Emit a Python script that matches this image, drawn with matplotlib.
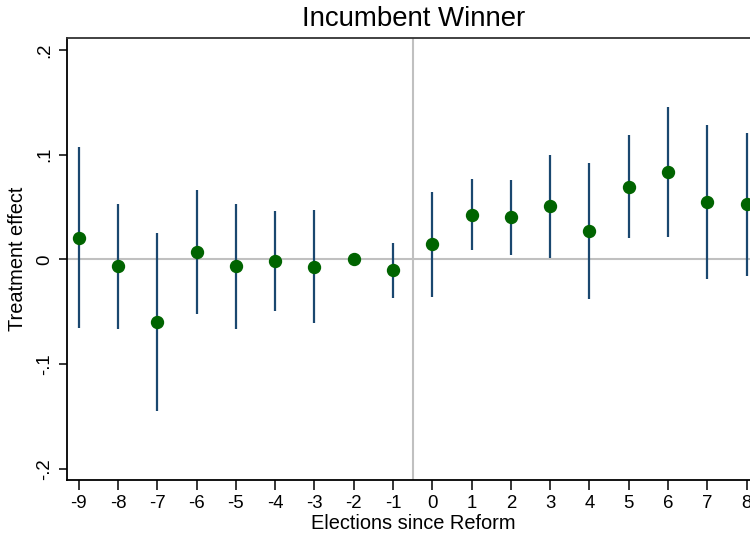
import numpy as np
import matplotlib
matplotlib.use("Agg")
import matplotlib.pyplot as plt

plt.rcParams["font.family"] = ["Liberation Sans", "DejaVu Sans"]

# ── 数据───────────────────────────────────────────────────
elections = [-9, -8, -7, -6, -5, -4, -3, -2, -1, 0, 1, 2, 3, 4, 5, 6, 7, 8]
coef = [0.0207, -0.0067, -0.0596, 0.0067, -0.0067, -0.0019, -0.0071, 0.0, -0.0105,
        0.0148, 0.0428, 0.0403, 0.0509, 0.0268, 0.0694, 0.0838, 0.0545, 0.0529]
ci_low = [-0.0660, -0.0669, -0.1444, -0.0520, -0.0663, -0.0494, -0.0612, np.nan, -0.0367,
          -0.0356, 0.0091, 0.0046, 0.0017, -0.0382, 0.0206, 0.0216, -0.0188, -0.0160]
ci_high = [0.1074, 0.0532, 0.0254, 0.0660, 0.0526, 0.0459, 0.0468, np.nan, 0.0156,
           0.0648, 0.0767, 0.0757, 0.0993, 0.0918, 0.1185, 0.1456, 0.1281, 0.1211]
y_ticks = [-0.2, -0.1, 0, 0.1, 0.2]
y_tick_labels = ["-.2", "-.1", "0", ".1", ".2"]

NAVY = "#1a476f"
DKGREEN = "#006400"
REFGRAY = "#c0c0c0"

fig = plt.figure(figsize=(7.5, 5.37), dpi=100)
ax = fig.add_axes([0.0889, 0.1061, 0.9111, 0.8226])

# 参考线
ax.axhline(0, color=REFGRAY, lw=1.5, zorder=1)
ax.axvline(-0.5, color=REFGRAY, lw=1.5, zorder=1)

# 置信区间 + 点估计
ax.vlines(elections, ci_low, ci_high, color=NAVY, lw=1.6, zorder=2)
ax.plot(elections, coef, "o", color=DKGREEN, ms=8.6, mec=DKGREEN, zorder=3)

ax.set_xlim(-9.306, 8.085)
ax.set_ylim(-0.2108, 0.2112)
ax.set_xticks(elections)
ax.set_xticklabels([str(e) for e in elections], fontsize=13.4)
ax.set_yticks(y_ticks)
ax.set_yticklabels(y_tick_labels, fontsize=13.4, rotation=90, va="center")

ax.tick_params(axis="x", length=7, width=1.1, pad=4)
ax.tick_params(axis="y", length=6, width=1.1, pad=4)

ax.spines["right"].set_visible(False)
for s in ["left", "bottom", "top"]:
    ax.spines[s].set_linewidth(1.3)
ax.spines["top"].set_color("#333333")

ax.set_xlabel("Elections since Reform", fontsize=14.4, labelpad=1)
ax.xaxis.label.set_x(0.507)
ax.set_ylabel("Treatment effect", fontsize=14.4, labelpad=6)
fig.text(0.551, 0.965, "Incumbent Winner", fontsize=19.9, ha="center", va="center")

fig.savefig("out.png", dpi=100)
